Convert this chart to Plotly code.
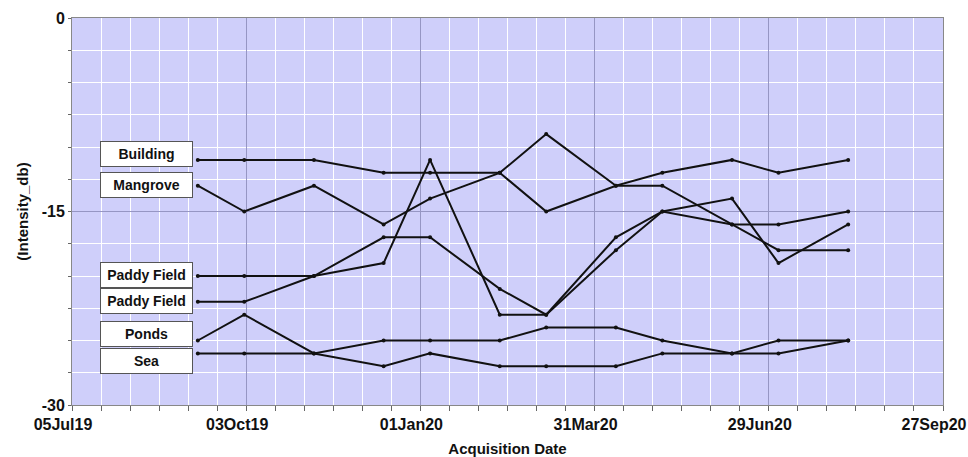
import plotly.graph_objects as go

# Acquisition dates (12-day revisit multiples)
dates = ['2019-09-08', '2019-10-02', '2019-11-07', '2019-12-13', '2020-01-06', '2020-02-11',
         '2020-03-06', '2020-04-11', '2020-05-05', '2020-06-10', '2020-07-04', '2020-08-09']

series_names = ['Building', 'Mangrove', 'Paddy Field', 'Paddy Field', 'Ponds', 'Sea']

building = [-11, -11, -11, -12, -12, -12, -9, -13, -12, -11, -12, -11]
mangrove = [-13, -15, -13, -16, -14, -12, -15, -13, -13, -16, -18, -18]
paddy1 = [-20, -20, -20, -19, -11, -23, -23, -17, -15, -14, -19, -16]
paddy2 = [-22, -22, -20, -17, -17, -21, -23, -18, -15, -16, -16, -15]
ponds = [-25, -23, -26, -25, -25, -25, -24, -24, -25, -26, -25, -25]
sea = [-26, -26, -26, -27, -26, -27, -27, -27, -26, -26, -26, -25]

y_tick_vals = [0, -15, -30]
y_tick_text = ['0', '-15', '-30']

label_y = [-10.58, -12.95, -19.9, -21.9, -24.46, -26.6]

all_series = [building, mangrove, paddy1, paddy2, ponds, sea]

FONT = "Liberation Sans, Arial, sans-serif"
INK = '#111111'

fig = go.Figure()
for name, vals in zip(series_names, all_series):
    fig.add_trace(go.Scatter(
        x=dates, y=vals, name=name, mode='lines+markers',
        line=dict(color=INK, width=2),
        marker=dict(color=INK, size=4),
        showlegend=False,
    ))

for name, ly in zip(series_names, label_y):
    fig.add_annotation(
        x=dates[0], y=ly, xref='x', yref='y',
        text='<b>' + name + '</b>', showarrow=False,
        xanchor='right', yanchor='middle', xshift=-5,
        width=87, height=20, borderpad=2, borderwidth=1,
        bordercolor='#555555', bgcolor='white',
        font=dict(family=FONT, size=14, color=INK),
    )

DAY = 86400000
fig.update_layout(
    width=968, height=457,
    margin=dict(l=72, r=25, t=18, b=52),
    paper_bgcolor='white',
    plot_bgcolor='rgb(207,207,250)',
    font=dict(family=FONT, color=INK),
)
fig.update_xaxes(
    type='date', automargin=False,
    range=['2019-07-05', '2020-09-27'],
    tick0='2019-07-05', dtick=90 * DAY,
    tickformat='%d%b%y',
    tickfont=dict(family=FONT, size=16, color=INK, weight='bold'),
    ticklabelshift=-9,
    ticklabeloverflow='allow',
    ticks='outside', ticklen=5, tickcolor='#666666',
    showgrid=True, gridcolor='rgb(150,150,195)', gridwidth=1,
    minor=dict(dtick=15 * DAY, tick0='2019-07-05', showgrid=True, gridcolor='white',
               gridwidth=1, ticks='outside', ticklen=5, tickcolor='#666666'),
    showline=True, linecolor='#888888', linewidth=1, mirror=True,
    zeroline=False,
    title=dict(text='<b>Acquisition Date</b>', font=dict(family=FONT, size=15, color=INK),
               standoff=11),
)
fig.update_yaxes(
    automargin=False,
    range=[-30, 0],
    tickmode='array', tickvals=y_tick_vals, ticktext=y_tick_text,
    tickfont=dict(family=FONT, size=16, color=INK, weight='bold'),
    ticks='outside', ticklen=3, tickcolor='#666666',
    showgrid=True, gridcolor='rgb(150,150,195)', gridwidth=1,
    minor=dict(tick0=0, dtick=2.5, showgrid=True, gridcolor='white', gridwidth=1,
               ticks='outside', ticklen=3, tickcolor='#666666'),
    showline=True, linecolor='#888888', linewidth=1, mirror=True,
    zeroline=False,
    title=dict(text='<b>(Intensity_db)</b>', font=dict(family=FONT, size=15, color=INK),
               standoff=9),
)

fig.write_html(
    "out.html",
    config={'displayModeBar': False},
    post_script="document.body.style.margin='0';document.body.style.overflow='hidden';",
)
